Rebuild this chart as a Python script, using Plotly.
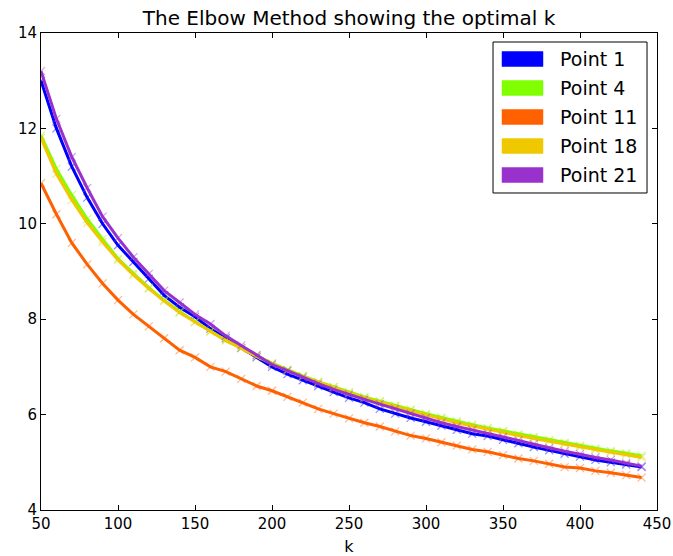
import plotly.graph_objects as go

k_values = list(range(50, 450, 10))

point_1 = [13.0, 12.0, 11.2, 10.55, 10.0, 9.55, 9.2, 8.85, 8.5, 8.25,
           8.05, 7.8, 7.6, 7.4, 7.2, 7.0, 6.85, 6.72, 6.6, 6.47,
           6.35, 6.25, 6.12, 6.02, 5.93, 5.85, 5.77, 5.68, 5.6, 5.55,
           5.47, 5.4, 5.32, 5.25, 5.18, 5.12, 5.05, 5.0, 4.95, 4.9]
point_4 = [11.85, 11.15, 10.6, 10.1, 9.68, 9.27, 8.96, 8.66, 8.4, 8.16,
           7.95, 7.75, 7.56, 7.4, 7.23, 7.08, 6.94, 6.81, 6.69, 6.58,
           6.47, 6.37, 6.28, 6.19, 6.11, 6.02, 5.94, 5.86, 5.79, 5.72,
           5.66, 5.59, 5.53, 5.47, 5.41, 5.35, 5.29, 5.24, 5.19, 5.14]
point_11 = [10.85, 10.2, 9.6, 9.15, 8.75, 8.4, 8.1, 7.85, 7.6, 7.35,
            7.2, 7.0, 6.9, 6.75, 6.6, 6.5, 6.37, 6.25, 6.12, 6.02,
            5.92, 5.83, 5.75, 5.65, 5.56, 5.5, 5.42, 5.35, 5.27, 5.22,
            5.15, 5.08, 5.03, 4.97, 4.9, 4.88, 4.82, 4.78, 4.73, 4.68]
point_18 = [11.8, 11.05, 10.5, 10.02, 9.62, 9.24, 8.93, 8.64, 8.38, 8.14,
            7.94, 7.74, 7.55, 7.39, 7.22, 7.07, 6.93, 6.8, 6.68, 6.57,
            6.45, 6.35, 6.26, 6.17, 6.08, 5.99, 5.91, 5.83, 5.76, 5.69,
            5.63, 5.56, 5.5, 5.44, 5.38, 5.32, 5.26, 5.21, 5.16, 5.1]
point_21 = [13.2, 12.2, 11.4, 10.75, 10.15, 9.7, 9.3, 8.95, 8.6, 8.35,
            8.1, 7.9, 7.65, 7.45, 7.25, 7.05, 6.92, 6.78, 6.65, 6.53,
            6.42, 6.32, 6.22, 6.12, 6.02, 5.93, 5.83, 5.75, 5.68, 5.6,
            5.53, 5.46, 5.38, 5.3, 5.23, 5.17, 5.1, 5.05, 4.98, 4.92]

series_names = ["Point 1", "Point 4", "Point 11", "Point 18", "Point 21"]
series_values = [point_1, point_4, point_11, point_18, point_21]
series_colors = ["#0000ff", "#7fff00", "#ff6000", "#f0c800", "#9932cc"]
marker_colors = ["rgba(0,0,255,0.45)", "rgba(127,255,0,0.45)", "rgba(255,96,0,0.45)",
                 "rgba(240,200,0,0.45)", "rgba(153,50,204,0.45)"]

x_ticks = [50, 100, 150, 200, 250, 300, 350, 400, 450]
y_ticks = [4, 6, 8, 10, 12, 14]

FONT = "DejaVu Sans"

fig = go.Figure()
for name, vals, col, mcol in zip(series_names, series_values, series_colors, marker_colors):
    fig.add_trace(go.Scatter(
        x=k_values, y=vals, name=name, mode="lines+markers",
        line=dict(color=col, width=3),
        marker=dict(symbol="x-thin", size=8, line=dict(color=mcol, width=1.2), color=mcol),
        showlegend=False,
    ))

# legend box drawn in paper coordinates
shapes = [dict(type="rect", xref="paper", yref="paper", x0=0.7338, x1=0.9838,
               y0=0.6646, y1=0.9811, line=dict(color="#000000", width=1),
               fillcolor="white", layer="above")]
annotations = []
centers = [0.9455, 0.8847, 0.8239, 0.7631, 0.7023]
for name, col, cy in zip(series_names, series_colors, centers):
    shapes.append(dict(type="rect", xref="paper", yref="paper", x0=0.7484, x1=0.8149,
                       y0=cy - 0.0157, y1=cy + 0.0157, line=dict(color=col, width=0.5),
                       fillcolor=col, layer="above"))
    annotations.append(dict(xref="paper", yref="paper", x=0.839, y=cy, text=name,
                            showarrow=False, xanchor="left", yanchor="middle",
                            font=dict(family=FONT, size=19, color="#000000")))

fig.update_layout(
    width=673, height=556, autosize=False,
    margin=dict(l=41, r=16, t=33, b=46),
    paper_bgcolor="white", plot_bgcolor="white",
    font=dict(family=FONT, size=15, color="#000000"),
    title=dict(text="The Elbow Method showing the optimal k", x=0.5186, xanchor="center",
               y=0.968, yanchor="middle", yref="container",
               font=dict(family=FONT, size=20, color="#000000")),
    shapes=shapes, annotations=annotations,
)
fig.update_xaxes(range=[50, 450], tickvals=x_ticks, ticks="inside", ticklen=5, tickwidth=1,
                 tickcolor="#000000", mirror="ticks", showline=True, linecolor="#000000",
                 linewidth=1, showgrid=False, zeroline=False, automargin=False,
                 ticklabeloverflow="allow",
                 title=dict(text="k", standoff=10, font=dict(family=FONT, size=16)))
fig.update_yaxes(range=[4, 14], tickvals=y_ticks, ticks="inside", ticklen=5, tickwidth=1,
                 tickcolor="#000000", mirror="ticks", showline=True, linecolor="#000000",
                 linewidth=1, showgrid=False, zeroline=False, automargin=False,
                 ticklabeloverflow="allow")

fig.write_html("out.html", config={"displayModeBar": False},
               post_script="document.body.style.margin='0';document.body.style.overflow='hidden';")
